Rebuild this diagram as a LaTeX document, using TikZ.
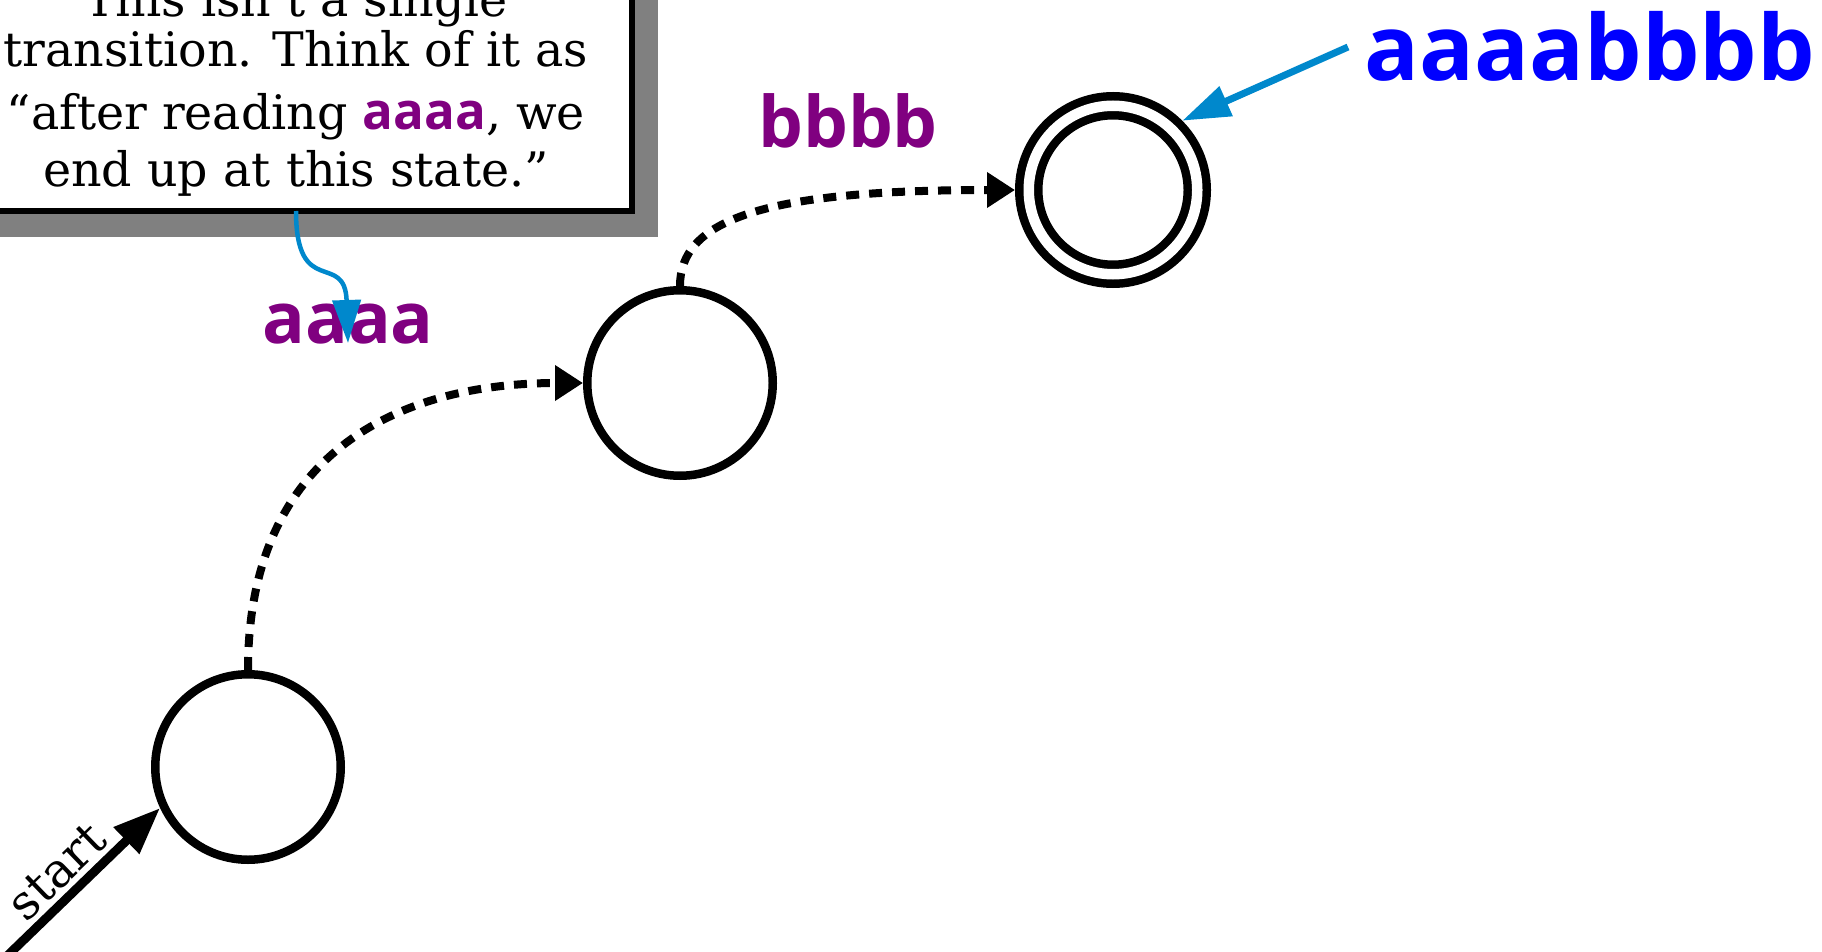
\documentclass[tikz,border=0pt]{standalone}
\usepackage{fontspec}
\setmainfont{DejaVu Serif}
\newfontfamily\lblfont{Open Sans}
\usetikzlibrary{arrows.meta,shadows}
\definecolor{pointerblue}{RGB}{0,136,204}
\definecolor{strpurple}{RGB}{128,0,128}
\definecolor{strblue}{RGB}{0,0,255}
\definecolor{shadowgray}{RGB}{128,128,128}
\begin{document}
\begin{tikzpicture}[x=1pt,y=-1pt,
  statenode/.style={circle, draw, line width=8.5pt, minimum size=185.5pt, inner sep=0pt},
  acceptnode/.style={circle, draw, line width=8.5pt, double, double distance=10.5pt, minimum size=168.5pt, inner sep=0pt, outer sep=13.75pt},
  transarrow/.style={line width=8pt, dash pattern=on 13pt off 10pt, -{Triangle[length=28pt,width=34pt]}},
  startarrow/.style={line width=9pt, -{Triangle[length=47pt,width=35pt]}},
  strlabel/.style={inner sep=0pt, anchor=base, font=\lblfont\bfseries\fontsize{71}{80}\selectfont, text=strpurple},
  notebox/.style={draw, line width=6pt, fill=white, outer sep=0pt, minimum width=672pt, inner xsep=0pt, inner ysep=15pt, align=center,
    font=\fontsize{47.5}{50}\selectfont,
    general shadow={fill=shadowgray, shadow xshift=26pt, shadow yshift=-26pt}},
  pointer/.style={draw=pointerblue, line width=4.5pt, -{Triangle[length=43pt,width=28pt]}}
]
\useasboundingbox (0,0) rectangle (1822,952);

% states
\node[statenode] (c1) at (248,767) {};
\node[statenode] (c2) at (680,383) {};
\node[acceptnode] (c3) at (1113,190) {};

% transitions
\draw[transarrow] (c1.north) .. controls +(0,-218) and +(-183,0) .. (c2.west);
\draw[transarrow] (c2.north) .. controls +(0,-65) and +(-255,0) .. (c3.west);

% start arrow
\coordinate (s0) at (5,958);
\draw[startarrow] (s0) -- (c1.205) node[pos=0.45, sloped, above, inner sep=5pt, font=\fontsize{48}{50}\selectfont] (startlbl) {start};

% string labels
\node[strlabel] (la) at (348,343) {aaaa};
\node[strlabel] (lb) at (848,148) {bbbb};
\node[strlabel, text=strblue, font=\lblfont\bfseries\fontsize{91}{100}\selectfont] (lab) at (1590,81) {aaaabbbb};

% note box
\node[notebox, anchor=south] (box) at (296,211) {This isn't a single\\
transition. Think of it as\\[13pt]
“after reading {\lblfont\bfseries\fontsize{51}{50}\selectfont\color{strpurple}aaaa}, we\\[7pt]
end up at this state.”};

% pointers
\draw[pointer] (box.south) .. controls +(0,89) and (345,250) .. (la.base);
\coordinate (p0) at (1348,47);
\draw[pointer, line width=7pt, -{Triangle[length=48pt,width=31pt]}] (p0) -- (c3.45);
\end{tikzpicture}
\end{document}
